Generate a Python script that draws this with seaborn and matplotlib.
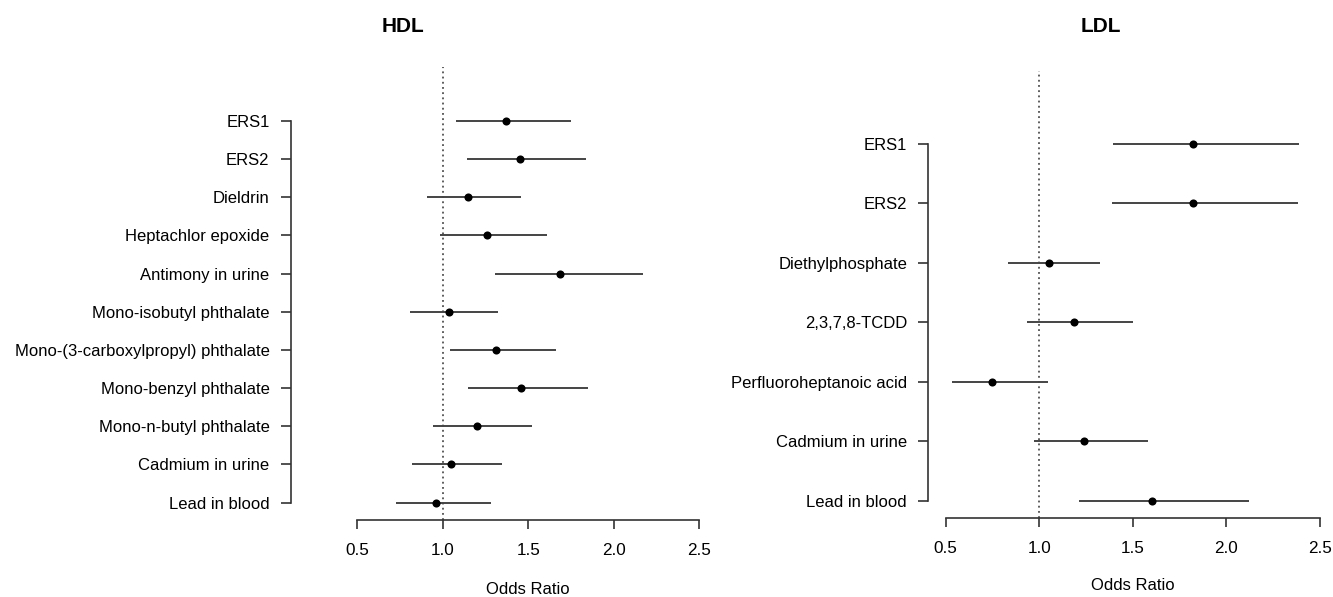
import matplotlib
matplotlib.use("Agg")
import matplotlib.pyplot as plt
import seaborn as sns
import pandas as pd

sns.set_theme(style="white")
plt.rcParams['font.family'] = ['Liberation Sans', 'DejaVu Sans']
plt.rcParams['text.color'] = 'black'

# ---- data ----
hdl_labels = ["ERS1", "ERS2", "Dieldrin", "Heptachlor epoxide", "Antimony in urine",
              "Mono-isobutyl phthalate", "Mono-(3-carboxylpropyl) phthalate",
              "Mono-benzyl phthalate", "Mono-n-butyl phthalate", "Cadmium in urine",
              "Lead in blood"]
hdl_or = [1.37, 1.45, 1.15, 1.26, 1.685, 1.035, 1.31, 1.46, 1.20, 1.05, 0.96]
hdl_lo = [1.075, 1.14, 0.91, 0.985, 1.305, 0.81, 1.04, 1.15, 0.945, 0.82, 0.725]
hdl_hi = [1.75, 1.84, 1.46, 1.61, 2.17, 1.325, 1.665, 1.85, 1.52, 1.345, 1.285]

ldl_labels = ["ERS1", "ERS2", "Diethylphosphate", "2,3,7,8-TCDD",
              "Perfluoroheptanoic acid", "Cadmium in urine", "Lead in blood"]
ldl_or = [1.823, 1.819, 1.05, 1.184, 0.746, 1.237, 1.602]
ldl_lo = [1.392, 1.388, 0.835, 0.934, 0.535, 0.973, 1.214]
ldl_hi = [2.387, 2.384, 1.323, 1.499, 1.045, 1.579, 2.119]

x_ticks = [0.5, 1.0, 1.5, 2.0, 2.5]
x_ticklabels = ["0.5", "1.0", "1.5", "2.0", "2.5"]

W, H = 1333, 597
fig = plt.figure(figsize=(W / 100, H / 100), dpi=100)

def px_axes(x0, x1, y0, y1):
    return fig.add_axes([x0 / W, 1 - y1 / H, (x1 - x0) / W, (y1 - y0) / H])

def panel(ax, labels, orr, lo, hi, ylim, spine_out_px, title, title_xy, xlab_y):
    n = len(labels)
    df = pd.DataFrame({"label": labels, "or": orr, "lo": lo, "hi": hi,
                       "pos": list(range(n))})
    ax.axvline(1.0, color="#333333", lw=1.1, ls=(0, (1.2, 2.2)), zorder=1)
    ax.hlines(df["pos"], df["lo"], df["hi"], color="#444444", lw=1.4, zorder=2)
    sns.scatterplot(data=df, x="or", y="pos", ax=ax, color="black", s=34,
                    edgecolor="black", linewidth=0, zorder=3, legend=False)
    ax.set_xlim(0.5, 2.5)
    ax.set_ylim(*ylim)
    ax.set_yticks(range(n))
    ax.set_yticklabels(labels)
    ax.set_xticks(x_ticks)
    ax.set_xticklabels(x_ticklabels)
    for s in ["top", "right"]:
        ax.spines[s].set_visible(False)
    for s in ["left", "bottom"]:
        ax.spines[s].set_color("#333333")
        ax.spines[s].set_linewidth(1.2)
    ax.spines["left"].set_position(("outward", spine_out_px * 72 / 100))
    ax.spines["left"].set_bounds(0, n - 1)
    ax.spines["bottom"].set_bounds(0.5, 2.5)
    ax.tick_params(axis="y", length=7.5, width=1.2, color="#333333", pad=7.8,
                   labelsize=12, left=True, labelcolor="black")
    ax.tick_params(axis="x", length=6.5, width=1.2, color="#333333", pad=10,
                   labelsize=12.3, bottom=True, labelcolor="black")
    ax.set_xlabel("")
    ax.set_ylabel("")
    ax.grid(False)
    bb = ax.get_position()
    fig.text(bb.x0 + bb.width / 2, 1 - xlab_y / H, "Odds Ratio", fontsize=12,
             ha="center", va="center", color="black")
    fig.text(title_xy[0] / W, 1 - title_xy[1] / H, title, fontsize=15,
             fontweight="bold", ha="center", va="center", color="black")

ax1 = px_axes(357.3, 699, 66.7, 520)
panel(ax1, hdl_labels, hdl_or, hdl_lo, hdl_hi, (10.453, -1.414), 66.5,
      "HDL", (403, 26), 589)

ax2 = px_axes(945.7, 1320, 70.7, 518.3)
panel(ax2, ldl_labels, ldl_or, ldl_lo, ldl_hi, (6.29, -1.226), 17.4,
      "LDL", (1101, 27), 586)

fig.savefig("out.png", dpi=100, facecolor="white")
